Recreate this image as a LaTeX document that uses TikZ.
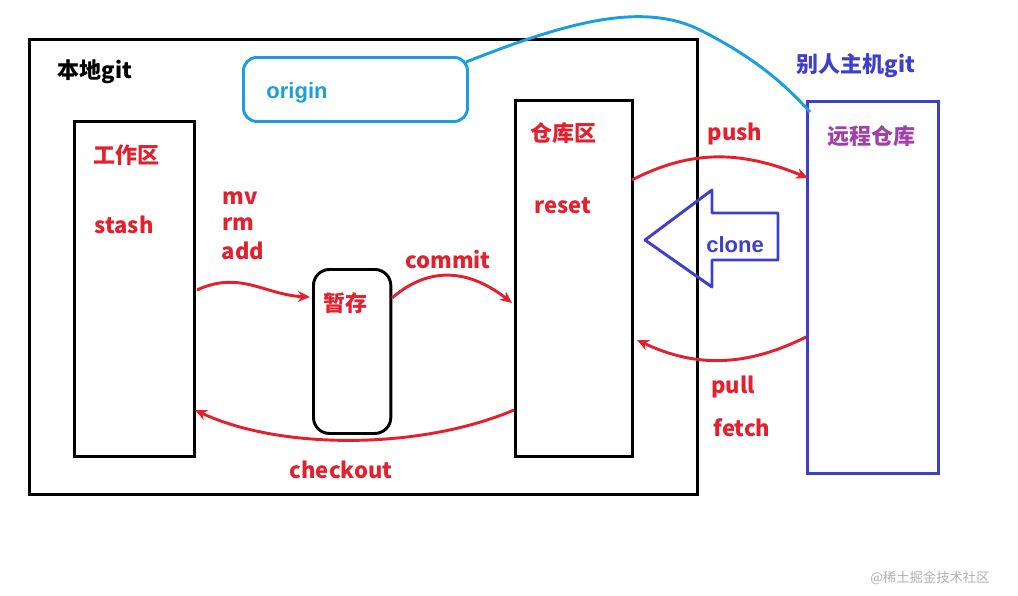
\documentclass[tikz,border=0pt]{standalone}
\usepackage{fontspec}
\setmainfont{Liberation Sans}
\newfontfamily\cjk{Noto Sans CJK SC}
\usetikzlibrary{arrows.meta}
\definecolor{myred}{HTML}{E5202E}
\definecolor{mycyan}{HTML}{1A9FDC}
\definecolor{myblue}{HTML}{3F3FCC}
\definecolor{mypurple}{HTML}{A040A8}
\begin{document}
\begin{tikzpicture}[x=0.75pt,y=-0.75pt,
  box/.style={draw,line width=2.2pt},
  lbl/.style={font=\cjk\bfseries\fontsize{16.5}{19}\selectfont,text=myred},
  arr/.style={draw=myred,line width=2.2pt,-{Stealth[length=9pt,width=8pt]}}]
\useasboundingbox (0,0) rectangle (1018,596);
\fill[white] (0,0) rectangle (1018,596);
\node[box,minimum width=501pt,minimum height=341pt,anchor=north west] (local) at (28,38) {};
\node[font=\cjk\bfseries\fontsize{16.5}{19}\selectfont] (lt) at (95,72) {本地git};
\node[draw=mycyan,line width=2.2pt,rounded corners=10pt,minimum width=168pt,minimum height=48pt,anchor=north west] (orig) at (242,56) {};
\node[font=\bfseries\fontsize{16.5}{19}\selectfont,text=mycyan] (ot) at (297,93) {origin};
\node[box,minimum width=90pt,minimum height=251pt,anchor=north west] (work) at (73,120) {};
\node[lbl] (wt) at (126,155) {工作区};
\node[lbl] (st) at (124,225) {stash};
\node[box,rounded corners=12pt,minimum width=58pt,minimum height=123pt,anchor=north west] (stage) at (312,268) {};
\node[lbl] (sgt) at (345,303) {暂存};
\node[box,minimum width=88pt,minimum height=267pt,anchor=north west] (repo) at (514,99) {};
\node[lbl] (rt) at (563,133) {仓库区};
\node[lbl] (rs) at (563,206) {reset};
\node[draw=myblue,line width=2.2pt,minimum width=98pt,minimum height=279pt,anchor=north west] (remote) at (806,100) {};
\node[font=\cjk\bfseries\fontsize{16.5}{19}\selectfont,text=mypurple] (rmt) at (871,136) {远程仓库};
\node[font=\cjk\bfseries\fontsize{16.5}{19}\selectfont,text=myblue] (ot2) at (856,66) {别人主机git};
\coordinate (c1) at (466,62);
\coordinate (c2) at (810,112);
\draw[mycyan,line width=2.2pt] (c1) .. controls (560,25) and (640,0) .. (700,30) .. controls (760,60) and (790,90) .. (c2);
\node[lbl] at (240,198) {mv};
\node[lbl] at (238,224) {rm};
\node[lbl] at (243,251) {add};
\node[lbl] at (448,260) {commit};
\node[lbl] at (735,134) {push};
\node[lbl] at (733,387) {pull};
\node[lbl] at (742,428) {fetch};
\node[lbl] at (341,470) {checkout};
\coordinate (a1) at (197,290); \coordinate (a2) at (310,297);
\draw[arr] (a1) .. controls (240,270) and (265,295) .. (a2);
\coordinate (b1) at (392,298); \coordinate (b2) at (512,303);
\draw[arr] (b1) .. controls (430,265) and (470,270) .. (b2);
\coordinate (p1) at (632,180); \coordinate (p2) at (808,178);
\draw[arr] (p1) .. controls (690,150) and (740,150) .. (p2);
\coordinate (q1) at (806,337); \coordinate (q2) at (637,340);
\draw[arr] (q1) .. controls (740,370) and (690,365) .. (q2);
\coordinate (k1) at (514,410); \coordinate (k2) at (195,410);
\draw[arr] (k1) .. controls (420,450) and (280,450) .. (k2);
\draw[myblue,line width=2.2pt,line join=round] (645,240) -- (712,190) -- (712,213) -- (778,213) -- (778,260) -- (712,260) -- (712,287) -- cycle;
\node[font=\bfseries\fontsize{16.5}{19}\selectfont,text=myblue] (cl) at (735,245) {clone};
\node[font=\cjk\fontsize{10}{12}\selectfont,text=gray!60] (wm) at (930,578) {@稀土掘金技术社区};
\end{tikzpicture}
\end{document}
